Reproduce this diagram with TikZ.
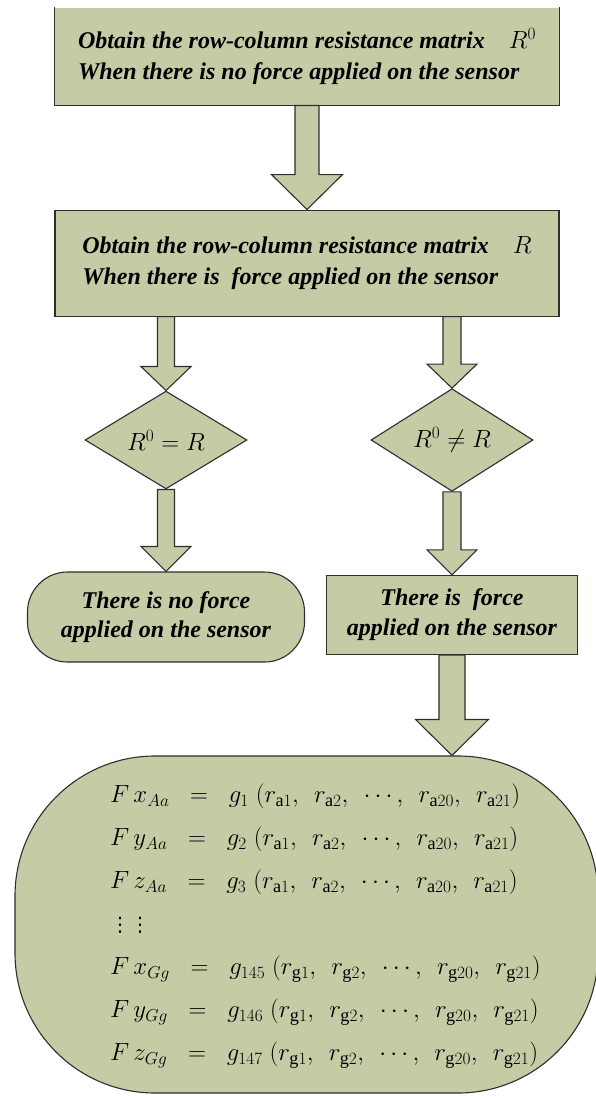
\documentclass[tikz,border=0pt]{standalone}
\usepackage{fontspec}
\setmainfont{Liberation Serif}
\newfontfamily\dotsfont{DejaVu Sans}
\usepackage{amsmath}
\usetikzlibrary{positioning,shapes.geometric,calc}
\definecolor{boxfill}{HTML}{C5CBA5}
\definecolor{edge}{HTML}{2E2E2E}

% fat block arrow: from, to, half shaft, half head, head length
\newcommand{\fatarrow}[5]{%
  \draw[blockarr] let \p1=#1, \p2=#2 in
    (\x1-#3,\y1) -- (\x1-#3,\y2+#5) -- (\x1-#4,\y2+#5) -- (\x1,\y2)
    -- (\x1+#4,\y2+#5) -- (\x1+#3,\y2+#5) -- (\x1+#3,\y1) -- cycle;}
\newcommand{\sep}{,\;\,}

\begin{document}
\begin{tikzpicture}[x=1pt, y=-1pt,
  box/.style={draw=edge, line width=1.1pt, fill=boxfill, minimum width=504pt,
              minimum height=97pt, align=left,
              font=\fontsize{24}{31}\selectfont\bfseries\itshape},
  test/.style={diamond, draw=edge, line width=1.1pt, fill=boxfill, inner sep=0pt,
               minimum width=162pt, minimum height=90pt, font=\fontsize{27}{30}\selectfont},
  term/.style={draw=edge, line width=1.1pt, fill=boxfill, rounded corners=40pt,
               minimum width=277pt, minimum height=90pt, align=center,
               font=\fontsize{24}{29}\selectfont\bfseries\itshape},
  outcome/.style={draw=edge, line width=1.1pt, fill=boxfill, rounded corners=140pt,
                  minimum width=583pt, minimum height=337pt},
  blockarr/.style={draw=edge, line width=1.1pt, fill=boxfill, line join=miter}
]
\useasboundingbox[fill=white] (0,0) rectangle (595,1097);

% top box is cut at the page top: no upper edge
\node[box, draw=none] (box1) at (307,56.5)
  {Obtain the row-column resistance matrix\quad$R^0$\\
   When there is no force applied on the sensor};
\draw[draw=edge, line width=1.1pt] (box1.north west) -- (box1.south west)
  -- (box1.south east) -- (box1.north east);
\node[box, below=104pt of box1, minimum height=106pt] (box2)
  {Obtain the row-column resistance matrix\quad$R$\\
   When there is~ force applied on the sensor};

\node[test] (same) at (166,440) {$R^0 = R$};
\node[test] (diff) at (452,440) {$R^0 \neq R$};

\node[term, below=82pt of same] (noforce) {There is no force\\applied on the sensor};
\node[box, below=83pt of diff, minimum width=251pt, minimum height=79pt,
      align=center, font=\fontsize{24}{30}\selectfont\bfseries\itshape] (force)
  {There is~ force\\applied on the sensor};

\node[outcome] (forces) at (306.5,924.5) {};
\node[anchor=west, inner sep=0pt, align=left, font=\fontsize{26}{43}\selectfont] (eqs) at (110,926)
  {$F\,x_{Aa} \;\;=\;\; g_1\;(r_{\mathrm{a}1}\sep r_{\mathrm{a}2}\sep \cdots\sep r_{\mathrm{a}20}\sep r_{\mathrm{a}21})$\\
   $F\,y_{Aa} \;\;=\;\; g_2\;(r_{\mathrm{a}1}\sep r_{\mathrm{a}2}\sep \cdots\sep r_{\mathrm{a}20}\sep r_{\mathrm{a}21})$\\
   $F\,z_{Aa} \;\;=\;\; g_3\;(r_{\mathrm{a}1}\sep r_{\mathrm{a}2}\sep \cdots\sep r_{\mathrm{a}20}\sep r_{\mathrm{a}21})$\\
   {\dotsfont\fontsize{20}{43}\selectfont ⋮⋮}\\
   $F\,x_{Gg} \;\;=\;\; g_{145}\;(r_{\mathrm{g}1}\sep r_{\mathrm{g}2}\sep \cdots\sep r_{\mathrm{g}20}\sep r_{\mathrm{g}21})$\\
   $F\,y_{Gg} \;\;=\;\; g_{146}\;(r_{\mathrm{g}1}\sep r_{\mathrm{g}2}\sep \cdots\sep r_{\mathrm{g}20}\sep r_{\mathrm{g}21})$\\
   $F\,z_{Gg} \;\;=\;\; g_{147}\;(r_{\mathrm{g}1}\sep r_{\mathrm{g}2}\sep \cdots\sep r_{\mathrm{g}20}\sep r_{\mathrm{g}21})$};

\fatarrow{(box1.south)}{(box2.north)}{12pt}{35.5pt}{35pt}
\fatarrow{(box2.south -| same.north)}{(same.north)}{8.5pt}{25pt}{24pt}
\fatarrow{(box2.south -| diff.north)}{(diff.north)}{9pt}{25pt}{24pt}
\fatarrow{(same.south)}{(noforce.north)}{8.5pt}{25pt}{25pt}
\fatarrow{(diff.south)}{(force.north)}{9pt}{25pt}{25pt}
\fatarrow{(force.south)}{(forces.north -| force.south)}{13pt}{36.5pt}{36pt}
\end{tikzpicture}
\end{document}
